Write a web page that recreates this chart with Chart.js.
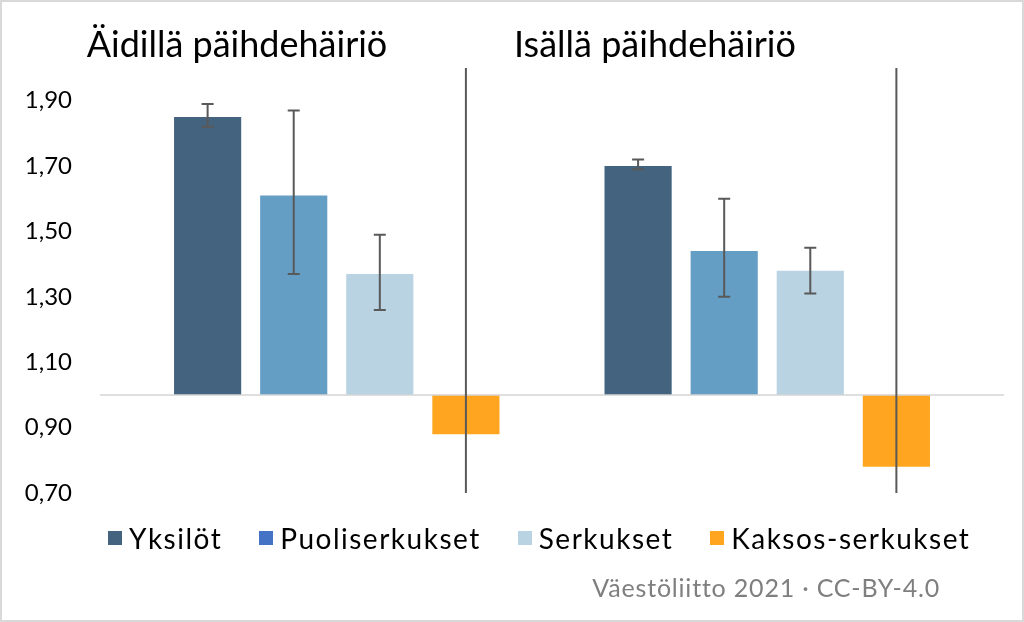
<!DOCTYPE html>
<html lang="fi">
<head>
<meta charset="utf-8">
<script src="https://cdn.jsdelivr.net/npm/chart.js@4.4.1/dist/chart.umd.min.js"></script>
<style>
    body { margin: 0; background: #fff; font-family: Lato, "Open Sans", sans-serif; }
    #wrap { position: relative; width: 1024px; height: 622px; overflow: hidden; }
    #frame { position: absolute; left: 0; top: 0; width: 1024px; height: 622px; box-sizing: border-box; border: 2px solid #d9d9d9; pointer-events: none; }
    .groupTitle { position: absolute; top: 21px; width: 400px; text-align: center; font-size: 36px; color: #000; white-space: nowrap; }
    #legend { position: absolute; left: 108px; top: 521px; display: flex; align-items: center; font-size: 28px; letter-spacing: 1.5px; color: #000; }
    #legend .item { display: flex; align-items: center; margin-right: 37px; }
    #legend .box { width: 14px; height: 14px; margin-right: 7px; }
    #footer { position: absolute; right: 84px; top: 572px; font-size: 25px; letter-spacing: 0.8px; color: #7f7f7f; }
</style>
</head>
<body>
<div id="wrap">
    <canvas id="chart"></canvas>
    <div class="groupTitle" id="title0"></div>
    <div class="groupTitle" id="title1"></div>
    <div id="legend"></div>
    <div id="footer">Väestöliitto 2021 · CC-BY-4.0</div>
    <div id="frame"></div>
</div>
<script>
// Data
const groups = ['Äidillä päihdehäiriö', 'Isällä päihdehäiriö'];
const seriesNames = ['Yksilöt', 'Puoliserkukset', 'Serkukset', 'Kaksos-serkukset'];
const baseValue = 1.0;

const yksilot = [1.85, 1.70];
const puoliserkukset = [1.61, 1.44];
const serkukset = [1.37, 1.38];
const kaksosSerkukset = [0.88, 0.78];

// error bar ranges (low / high)
const yksilotLow = [1.82, 1.69];
const yksilotHigh = [1.89, 1.72];
const puoliLow = [1.37, 1.30];
const puoliHigh = [1.87, 1.60];
const serkLow = [1.26, 1.31];
const serkHigh = [1.49, 1.45];
const kaksosLow = [0.45, 0.50];
const kaksosHigh = [2.30, 2.20];

const yTicks = [0.70, 0.90, 1.10, 1.30, 1.50, 1.70, 1.90];

const barColors = ['#44637f', '#659ec5', '#b9d3e3', '#ffa520'];
const legendColors = ['#44637f', '#4472c4', '#b9d3e3', '#ffa520'];

const seriesValues = [yksilot, puoliserkukset, serkukset, kaksosSerkukset];
const seriesLow = [yksilotLow, puoliLow, serkLow, kaksosLow];
const seriesHigh = [yksilotHigh, puoliHigh, serkHigh, kaksosHigh];

// group titles
document.getElementById('title0').textContent = groups[0];
document.getElementById('title0').style.left = (237 - 200) + 'px';
document.getElementById('title1').textContent = groups[1];
document.getElementById('title1').style.left = (655 - 200) + 'px';

// legend
const legendEl = document.getElementById('legend');
seriesNames.forEach((name, i) => {
    const item = document.createElement('div');
    item.className = 'item';
    item.innerHTML = `<span class="box" style="background:${legendColors[i]}"></span><span>${name}</span>`;
    legendEl.appendChild(item);
});

// Error bars + baseline
const errorBarPlugin = {
    id: 'errorBars',
    afterDatasetsDraw(chart) {
        const ctx = chart.ctx;
        const area = chart.chartArea;
        const y = chart.scales.y;

        // baseline at 1.0
        const by = y.getPixelForValue(baseValue);
        ctx.save();
        ctx.strokeStyle = '#d4d4d4';
        ctx.lineWidth = 1.5;
        ctx.beginPath();
        ctx.moveTo(area.left, by);
        ctx.lineTo(area.right, by);
        ctx.stroke();

        ctx.beginPath();
        ctx.rect(area.left, area.top, area.right - area.left, area.bottom - area.top);
        ctx.clip();
        ctx.strokeStyle = '#595959';
        ctx.lineWidth = 2;
        chart.data.datasets.forEach((ds, di) => {
            const meta = chart.getDatasetMeta(di);
            meta.data.forEach((bar, i) => {
                const x = bar.x;
                const top = y.getPixelForValue(seriesHigh[di][i]);
                const bottom = y.getPixelForValue(seriesLow[di][i]);
                ctx.beginPath();
                ctx.moveTo(x, top);
                ctx.lineTo(x, bottom);
                ctx.moveTo(x - 6, top);
                ctx.lineTo(x + 6, top);
                ctx.moveTo(x - 6, bottom);
                ctx.lineTo(x + 6, bottom);
                ctx.stroke();
            });
        });
        ctx.restore();
    }
};

const ctx = document.getElementById('chart').getContext('2d');
new Chart(ctx, {
    type: 'bar',
    data: {
        datasets: seriesNames.map((name, di) => ({
            label: name,
            data: seriesValues[di].map((v, i) => ({ x: i, y: [baseValue, v] })),
            backgroundColor: barColors[di],
            borderWidth: 0,
            categoryPercentage: 0.8,
            barPercentage: 0.78
        }))
    },
    options: {
        responsive: true,
        maintainAspectRatio: false,
        animation: false,
        layout: {
            padding: { top: 68, bottom: 129, left: 20, right: 20 }
        },
        plugins: {
            legend: { display: false },
            tooltip: { enabled: false }
        },
        scales: {
            x: {
                type: 'linear',
                min: -0.55,
                max: 1.55,
                offset: false,
                afterBuildTicks: function(scale) {
                    scale.ticks = groups.map((g, i) => ({ value: i }));
                },
                ticks: { display: false },
                grid: { display: false, drawTicks: false },
                border: { display: false }
            },
            y: {
                min: 0.70,
                max: 2.0,
                afterBuildTicks: function(scale) {
                    scale.ticks = yTicks.map(v => ({ value: v }));
                },
                afterFit: function(scale) {
                    scale.width = 80;
                },
                ticks: {
                    padding: 28,
                    color: '#000',
                    font: { family: 'Lato', size: 24 },
                    callback: function(value) {
                        return value.toFixed(2).replace('.', ',');
                    }
                },
                grid: { display: false, drawTicks: false },
                border: { display: false }
            }
        }
    },
    plugins: [errorBarPlugin]
});
</script>
</body>
</html>
